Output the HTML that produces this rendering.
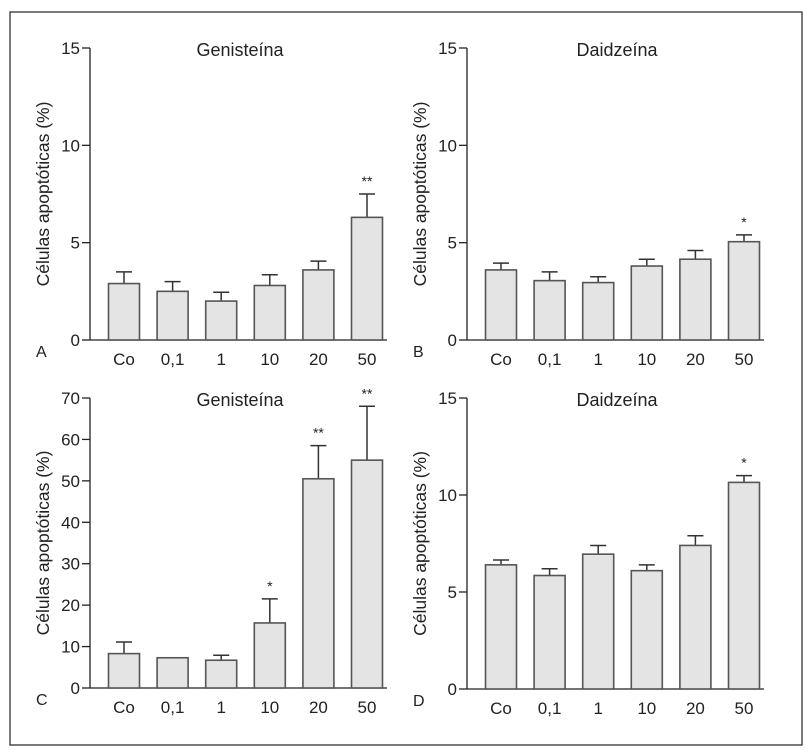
<!DOCTYPE html>
<html><head><meta charset="utf-8"><style>
body{margin:0;background:#fff;}
svg{display:block;font-family:"Liberation Sans",sans-serif;}
</style></head><body>
<svg id="chart" width="809" height="753">
<rect x="10" y="12" width="792" height="733" fill="none" stroke="#222" stroke-width="1.2"/>
</svg>
<script>
const categories = ["Co","0,1","1","10","20","50"];
const valuesA = [2.9,2.5,2.0,2.8,3.6,6.3];
const errorsA = [3.5,3.0,2.45,3.35,4.05,7.5];
const starsA = ["","","","","","**"];
const valuesB = [3.6,3.05,2.95,3.8,4.15,5.05];
const errorsB = [3.95,3.5,3.25,4.15,4.6,5.4];
const starsB = ["","","","","","*"];
const valuesC = [8.3,7.3,6.7,15.7,50.5,55];
const errorsC = [11.1,7.3,7.9,21.5,58.5,68];
const starsC = ["","","","*","**","**"];
const valuesD = [6.4,5.85,6.95,6.1,7.4,10.65];
const errorsD = [6.65,6.2,7.4,6.4,7.9,11.0];
const starsD = ["","","","","","*"];
const ticks15 = [0,5,10,15];
const ticks70 = [0,10,20,30,40,50,60,70];

const NS="http://www.w3.org/2000/svg";
const svg=document.getElementById('chart');
function mk(tag,attrs,parent){const e=document.createElementNS(NS,tag);for(const k in attrs)e.setAttribute(k,attrs[k]);(parent||svg).appendChild(e);return e;}

function panel(p){
  const g=mk('g',{});
  
  
  const y=v=>p.y0-(v/p.ymax)*(p.y0-p.yTop);
  const x=i=>p.ax+34+i*48.6;
  const ya=mk('line',{x1:p.ax,y1:p.y0,x2:p.ax,y2:p.yTop,stroke:'#222','stroke-width':1.3},g);
  
  
  p.ticks.forEach(t=>{
    const tl=mk('line',{x1:p.ax-8,y1:y(t),x2:p.ax,y2:y(t),stroke:'#222','stroke-width':1.3},g);
    
    
    const tx=mk('text',{x:p.ax-10,y:y(t)+6,'text-anchor':'end','font-size':17,fill:'#222'},g);
    tx.textContent=t;
    
    
  });
  const xa=mk('line',{x1:p.ax,y1:p.y0,x2:p.ax+297,y2:p.y0,stroke:'#222','stroke-width':1.3},g);
  
  
  categories.forEach((c,i)=>{
    const cx=x(i);
    const eb=mk('path',{d:`M${cx},${y(p.vals[i])}V${y(p.errs[i])}M${cx-8},${y(p.errs[i])}H${cx+8}`,stroke:'#333','stroke-width':1.5,fill:'none'},g);
    
    
    const b=mk('rect',{x:cx-15.5,y:y(p.vals[i]),width:31,height:p.y0-y(p.vals[i]),fill:'#e4e4e4',stroke:'#555','stroke-width':1.6},g);
    
    
    const lt=mk('text',{x:cx,y:p.y0+25,'text-anchor':'middle','font-size':17,fill:'#222'},g);
    lt.textContent=c;
    
    
    if(p.stars[i]){
      const st=mk('text',{x:cx,y:y(p.errs[i])-8,'text-anchor':'middle','font-size':14,fill:'#222'},g);
      st.textContent=p.stars[i];
      
      
    }
  });
  const ti=mk('text',{x:p.ax+150,y:p.yTop+8,'text-anchor':'middle','font-size':18,fill:'#222'},g);
  ti.textContent=p.title;
  
  
  const ym=(p.y0+p.yTop)/2;
  const yt=mk('text',{x:p.ax-41,y:ym,'text-anchor':'middle','font-size':17.5,fill:'#222',transform:`rotate(-90 ${p.ax-41} ${ym})`},g);
  yt.textContent='Células apoptóticas (%)';
  
  
  const lt=mk('text',{x:p.ax-54,y:p.y0+17,'font-size':16,fill:'#222'},g);
  lt.textContent=p.letter;
  
  
}
panel({letter:'A',title:'Genisteína',ax:90,y0:340,yTop:48,ymax:15,ticks:ticks15,vals:valuesA,errs:errorsA,stars:starsA});
panel({letter:'B',title:'Daidzeína',ax:467,y0:340,yTop:48,ymax:15,ticks:ticks15,vals:valuesB,errs:errorsB,stars:starsB});
panel({letter:'C',title:'Genisteína',ax:90,y0:688,yTop:398,ymax:70,ticks:ticks70,vals:valuesC,errs:errorsC,stars:starsC});
panel({letter:'D',title:'Daidzeína',ax:467,y0:689,yTop:398,ymax:15,ticks:ticks15,vals:valuesD,errs:errorsD,stars:starsD});
</script>
</body></html>
